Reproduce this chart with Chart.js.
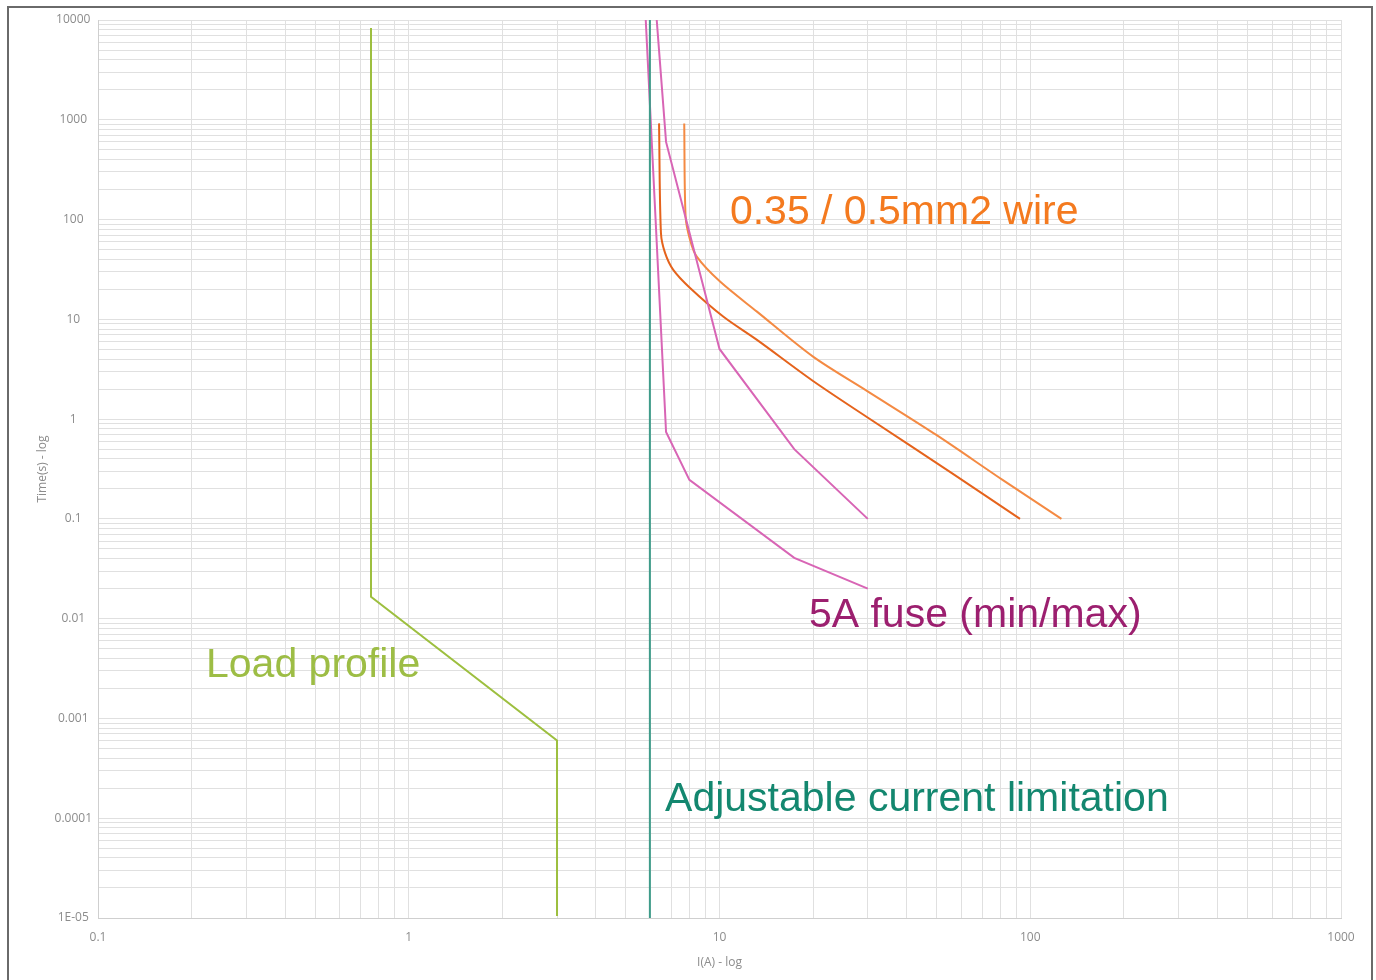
<!DOCTYPE html>
<html>

<head>
  <title>Current / time curves</title>
  <script src="https://cdn.jsdelivr.net/npm/chart.js@4.4.1/dist/chart.umd.min.js"></script>
  <style>
    body { margin: 0; background: #fff; overflow: hidden; }
    #wrap { position: relative; width: 1376px; height: 980px; }
    #frame { position: absolute; left: 7px; top: 6px; width: 1362px; height: 1000px; border: 2px solid #6a6a6a; }
    canvas { position: absolute; left: 0; top: 0; }
  </style>
</head>

<body>
  <div id="wrap">
    <div id="frame"></div>
    <canvas id="curveChart" width="1376" height="980"></canvas>
  </div>
  <script>
    // tick labels (decades only)
    const xDecades = [0.1, 1, 10, 100, 1000];
    const xTickLabels = ['0.1', '1', '10', '100', '1000'];
    const yDecades = [1e-5, 1e-4, 1e-3, 1e-2, 1e-1, 1, 10, 100, 1000, 10000];
    const yTickLabels = ['1E-05', '0.0001', '0.001', '0.01', '0.1', '1', '10', '100', '1000', '10000'];
    const minorSteps = [1, 2, 3, 4, 5, 6, 7, 8, 9];

    // load profile
    const loadI = [0.756, 0.756, 3.0, 3.0];
    const loadT = [8300, 0.0166, 0.0006, 1.05e-5];

    // adjustable current limitation
    const limitI = [5.97, 5.97];
    const limitT = [10000, 1e-5];

    // 5A fuse min / max
    const fuseMinI = [5.79, 6.73, 8.0, 17.4, 30];
    const fuseMinT = [10000, 0.744, 0.246, 0.0407, 0.02];
    const fuseMaxI = [6.28, 6.73, 10, 17.4, 30];
    const fuseMaxT = [10000, 600, 5.05, 0.5, 0.1];

    // wire 0.35mm2 / 0.5mm2
    const wire035I = [6.39, 6.48, 6.68, 7.1, 8.04, 10.3, 13.2, 20.0, 29.8, 56.4, 92.7];
    const wire035T = [920, 73.4, 46.3, 31.3, 20.6, 10.6, 6.22, 2.41, 1.05, 0.283, 0.1];
    const wire05I = [7.7, 7.78, 8.04, 8.45, 10.04, 13.2, 20.0, 29.8, 50, 81.9, 126];
    const wire05T = [920, 107, 62.5, 42.5, 23.9, 11.95, 4.23, 1.92, 0.69, 0.243, 0.1];

    function pts(xs, ys) {
      return xs.map((x, i) => ({ x: x, y: ys[i] }));
    }

    function logTicks(decades) {
      const out = [];
      decades.forEach((d, i) => {
        if (i === decades.length - 1) { out.push({ value: d }); return; }
        minorSteps.forEach(m => out.push({ value: m * d }));
      });
      return out;
    }

    function decadeLabel(value, decades, labels) {
      for (let i = 0; i < decades.length; i++) {
        if (Math.abs(Math.log10(value) - Math.log10(decades[i])) < 1e-9) return labels[i];
      }
      return '';
    }

    // text labels placed in data coordinates
    const notes = [
      { text: '0.35 / 0.5mm2 wire', x: 10.8, y: 90, color: '#f47a1f' },
      { text: '5A fuse (min/max)', x: 19.4, y: 0.0083, color: '#9c1f6f' },
      { text: 'Load profile', x: 0.2226, y: 0.00263, color: '#9dbd45' },
      { text: 'Adjustable current limitation', x: 6.68, y: 0.000117, color: '#13876f' }
    ];

    const notePlugin = {
      id: 'notes',
      afterDatasetsDraw(chart) {
        const ctx = chart.ctx;
        const xs = chart.scales.x, ys = chart.scales.y;
        ctx.save();
        ctx.font = '41px "Liberation Sans", Arial, sans-serif';
        ctx.textAlign = 'left';
        ctx.textBaseline = 'alphabetic';
        notes.forEach(n => {
          ctx.fillStyle = n.color;
          ctx.fillText(n.text, xs.getPixelForValue(n.x), ys.getPixelForValue(n.y));
        });
        ctx.restore();
      }
    };

    const line = (data, color, tension) => ({
      data: data,
      borderColor: color,
      borderWidth: 2,
      pointRadius: 0,
      showLine: true,
      tension: tension || 0,
      fill: false
    });

    const ctx = document.getElementById('curveChart').getContext('2d');
    const chart = new Chart(ctx, {
      type: 'scatter',
      data: {
        datasets: [
          line(pts(loadI, loadT), '#9dbf3f'),
          line(pts(limitI, limitT), '#3f9c8a'),
          line(pts(fuseMinI, fuseMinT), '#d865b5'),
          line(pts(fuseMaxI, fuseMaxT), '#d865b5'),
          line(pts(wire035I, wire035T), '#e5631c', 0.3),
          line(pts(wire05I, wire05T), '#f48a43', 0.3)
        ]
      },
      options: {
        responsive: false,
        animation: false,
        devicePixelRatio: 1,
        layout: { padding: { left: 0, right: 35, top: 20, bottom: 0 } },
        plugins: { legend: { display: false }, tooltip: { enabled: false } },
        scales: {
          x: {
            type: 'logarithmic',
            min: 0.1,
            max: 1000,
            afterBuildTicks: s => { s.ticks = logTicks(xDecades); },
            afterFit: s => { s.height = 62; },
            grid: { color: '#e0e0e0', lineWidth: 1, drawTicks: false },
            border: { color: '#cfcfcf' },
            ticks: {
              autoSkip: false,
              maxRotation: 0,
              padding: 12,
              color: '#8c8c8c',
              font: { family: '"Open Sans", sans-serif', size: 12 },
              callback: v => decadeLabel(v, xDecades, xTickLabels)
            },
            title: {
              display: true,
              text: 'I(A) - log',
              color: '#8c8c8c',
              font: { family: '"Open Sans", sans-serif', size: 12 },
              padding: { top: 0, bottom: 10 }
            }
          },
          y: {
            type: 'logarithmic',
            min: 1e-5,
            max: 10000,
            afterBuildTicks: s => { s.ticks = logTicks(yDecades); },
            afterFit: s => { s.width = 98; },
            grid: { color: '#e0e0e0', lineWidth: 1, drawTicks: false },
            border: { color: '#cfcfcf' },
            ticks: {
              autoSkip: false,
              padding: 6,
              crossAlign: 'center',
              color: '#8c8c8c',
              font: { family: '"Open Sans", sans-serif', size: 12 },
              callback: v => decadeLabel(v, yDecades, yTickLabels)
            },
            title: {
              display: true,
              text: 'Time(s) - log',
              color: '#8c8c8c',
              font: { family: '"Open Sans", sans-serif', size: 12 },
              padding: { top: 35, bottom: 0 }
            }
          }
        }
      },
      plugins: [notePlugin]
    });
  </script>
</body>

</html>
